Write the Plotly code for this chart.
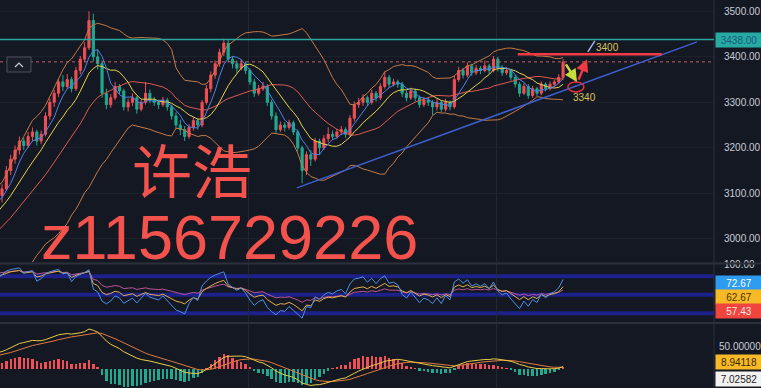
import numpy as np
import pandas as pd
import plotly.graph_objects as go

# ---------------- data ----------------
history_close = [2930, 2945, 2925, 2950, 2970, 2960, 2985, 2975, 3000, 2990, 2985,
                 3010, 3000, 3030, 3045, 3040, 3060, 3075, 3070, 3095, 3085, 3090]

opens = [3095, 3110, 3150, 3175, 3195, 3215, 3205, 3225, 3235, 3215,
         3230, 3270, 3300, 3320, 3345, 3335, 3350, 3330, 3370, 3395,
         3420, 3480, 3400, 3385, 3320, 3295, 3310, 3335, 3325, 3290,
         3300, 3310, 3285, 3300, 3320, 3305, 3300, 3295, 3305, 3290,
         3270, 3250, 3240, 3225, 3245, 3260, 3250, 3300, 3330, 3360,
         3385, 3410, 3430, 3395, 3385, 3375, 3385, 3370, 3345, 3320,
         3330, 3335, 3300, 3270, 3240, 3250, 3245, 3255, 3235, 3200,
         3150, 3185, 3175, 3215, 3200, 3220, 3230, 3225, 3235, 3240,
         3230, 3265, 3295, 3300, 3310, 3300, 3320, 3310, 3335, 3355,
         3340, 3345, 3340, 3320, 3310, 3325, 3310, 3295, 3305, 3300,
         3290, 3300, 3285, 3300, 3290, 3350, 3370, 3360, 3380, 3365,
         3375, 3370, 3380, 3370, 3395, 3375, 3365, 3370, 3355, 3340,
         3320, 3335, 3315, 3330, 3320, 3340, 3330, 3340, 3345, 3355]
highs = [3120, 3160, 3185, 3205, 3225, 3222, 3235, 3245, 3240, 3238,
         3278, 3308, 3328, 3352, 3360, 3362, 3356, 3378, 3402, 3432,
         3500, 3495, 3415, 3392, 3330, 3318, 3345, 3340, 3330, 3308,
         3320, 3315, 3305, 3345, 3328, 3312, 3306, 3312, 3310, 3295,
         3278, 3262, 3248, 3252, 3268, 3265, 3305, 3338, 3368, 3392,
         3418, 3440, 3438, 3402, 3392, 3395, 3390, 3375, 3352, 3338,
         3345, 3340, 3306, 3278, 3258, 3256, 3262, 3260, 3240, 3205,
         3192, 3195, 3222, 3220, 3228, 3245, 3238, 3242, 3248, 3245,
         3272, 3302, 3310, 3318, 3315, 3328, 3325, 3342, 3368, 3360,
         3352, 3350, 3345, 3326, 3332, 3330, 3315, 3312, 3310, 3305,
         3308, 3305, 3308, 3304, 3358, 3378, 3376, 3388, 3385, 3382,
         3380, 3392, 3385, 3402, 3400, 3382, 3378, 3374, 3360, 3345,
         3342, 3340, 3336, 3334, 3346, 3344, 3346, 3350, 3362, 3395]
lows = [3080, 3105, 3140, 3165, 3185, 3195, 3200, 3215, 3205, 3208,
        3225, 3262, 3290, 3312, 3325, 3330, 3322, 3325, 3362, 3388,
        3415, 3390, 3372, 3310, 3285, 3288, 3305, 3318, 3282, 3280,
        3292, 3275, 3280, 3295, 3298, 3292, 3285, 3290, 3282, 3262,
        3242, 3228, 3215, 3220, 3238, 3240, 3245, 3295, 3322, 3352,
        3378, 3402, 3388, 3375, 3365, 3370, 3362, 3338, 3312, 3315,
        3325, 3292, 3262, 3232, 3235, 3236, 3240, 3228, 3192, 3122,
        3140, 3160, 3170, 3185, 3195, 3212, 3218, 3220, 3228, 3222,
        3225, 3258, 3288, 3292, 3292, 3295, 3302, 3305, 3330, 3332,
        3335, 3332, 3312, 3302, 3305, 3302, 3288, 3290, 3292, 3272,
        3282, 3278, 3280, 3282, 3286, 3345, 3352, 3355, 3358, 3360,
        3362, 3366, 3362, 3366, 3368, 3358, 3360, 3348, 3333, 3312,
        3316, 3308, 3310, 3314, 3316, 3324, 3326, 3334, 3340, 3350]
closes = [3110, 3150, 3175, 3195, 3215, 3205, 3225, 3235, 3215, 3230,
          3270, 3300, 3320, 3345, 3335, 3350, 3330, 3370, 3395, 3420,
          3480, 3400, 3385, 3320, 3295, 3310, 3335, 3325, 3290, 3300,
          3310, 3285, 3300, 3320, 3305, 3300, 3295, 3305, 3290, 3270,
          3250, 3240, 3225, 3245, 3260, 3250, 3300, 3330, 3360, 3385,
          3410, 3430, 3395, 3385, 3375, 3385, 3370, 3345, 3320, 3330,
          3335, 3300, 3270, 3240, 3250, 3245, 3255, 3235, 3200, 3150,
          3185, 3175, 3215, 3200, 3220, 3230, 3225, 3235, 3240, 3230,
          3265, 3295, 3300, 3310, 3300, 3320, 3310, 3335, 3355, 3340,
          3345, 3340, 3320, 3310, 3325, 3310, 3295, 3305, 3300, 3290,
          3300, 3285, 3300, 3290, 3350, 3370, 3360, 3380, 3365, 3375,
          3370, 3380, 3370, 3395, 3375, 3365, 3370, 3355, 3340, 3320,
          3335, 3315, 3330, 3320, 3340, 3330, 3340, 3345, 3355, 3388]

price_ticks = [3000, 3100, 3200, 3300, 3400, 3500]
rsi_ticks = [100]
macd_ticks = [50]
rsi_levels = [80, 50, 20]
vgrid = [56.6, 113.8]

resistance_price = 3438
last_price_line = 3389
trend_line = dict(x0=67.8, y0=3112, x1=159.8, y1=3433)
target_line = dict(x0=118.6, x1=151.7, y=3406)
right_labels_rsi = [("72.67", "#2d9cf0", "#ffffff", 283),
                    ("62.67", "#f7b928", "#4a3200", 297),
                    ("57.43", "#f0443f", "#ffe4e4", 311)]
right_labels_macd = [("8.94118", "#f7b928", "#3a2800", 362),
                     ("7.02582", "#f2f2f2", "#222222", 379)]

# ---------------- indicators ----------------
s = pd.Series(history_close + closes, dtype=float)
nh = len(history_close)
idx_all = np.arange(len(s)) - nh
ma5 = s.rolling(5).mean()
ma10 = s.rolling(10).mean()
mid = s.rolling(20).mean()
sd = s.rolling(20).std(ddof=0)
upper = mid + 2 * sd
lower = mid - 2 * sd


def rsi(series, n):
    d = series.diff()
    up = d.clip(lower=0)
    dn = (-d).clip(lower=0)
    au = up.ewm(alpha=1 / n, adjust=False).mean()
    ad = dn.ewm(alpha=1 / n, adjust=False).mean()
    return 100 * au / (au + ad)


rsi6, rsi12, rsi24 = rsi(s, 6), rsi(s, 12), rsi(s, 24)
ema12 = s.ewm(span=12, adjust=False).mean()
ema26 = s.ewm(span=26, adjust=False).mean()
dif = ema12 - ema26
dea = dif.ewm(span=9, adjust=False).mean()
hist = 2 * (dif - dea)

m = idx_all >= -1
X = idx_all[m]
vis = np.arange(len(closes))

BG = "#141823"
RED = "#ef4f55"
GREEN = "#22a88f"
FONT = "Liberation Sans"

fig = go.Figure()
fig.add_trace(go.Candlestick(
    x=vis, open=opens, high=highs, low=lows, close=closes,
    increasing=dict(line=dict(color=RED, width=1), fillcolor=RED),
    decreasing=dict(line=dict(color=GREEN, width=1), fillcolor=GREEN),
    whiskerwidth=0, xaxis="x", yaxis="y", showlegend=False))

for ser, col in [(upper, "#c57a45"), (lower, "#c57a45"), (mid, "#dd5a50"),
                 (ma10, "#e6d24c"), (ma5, "#4d82e6")]:
    fig.add_trace(go.Scatter(x=X, y=ser[m], mode="lines", line=dict(color=col, width=1),
                             xaxis="x", yaxis="y", showlegend=False, hoverinfo="skip"))

for ser, col in [(rsi24, "#b9569a"), (rsi12, "#e2b04a"), (rsi6, "#4f8fe6")]:
    fig.add_trace(go.Scatter(x=X, y=ser[m], mode="lines", line=dict(color=col, width=1),
                             xaxis="x2", yaxis="y2", showlegend=False, hoverinfo="skip"))

hv = hist[m].values
fig.add_trace(go.Bar(x=X, y=hv, marker=dict(color=[RED if v >= 0 else GREEN for v in hv], line=dict(width=0)),
                     width=0.55, xaxis="x3", yaxis="y3", showlegend=False))
fig.add_trace(go.Scatter(x=X, y=dea[m], mode="lines", line=dict(color="#e07a3e", width=1),
                         xaxis="x3", yaxis="y3", showlegend=False))
fig.add_trace(go.Scatter(x=X, y=dif[m], mode="lines", line=dict(color="#e8cc48", width=1),
                         xaxis="x3", yaxis="y3", showlegend=False))

W, H = 761, 388
PW = 714


def PX(x):
    return x / PW


def PY(y):
    return 1 - y / H


xr = [-0.46, 163.7]
xcommon = dict(range=xr, showticklabels=False, showgrid=True, gridcolor="#232734",
               tickvals=vgrid, zeroline=False, showline=False, fixedrange=True, automargin=False)
ycommon = dict(side="right", showline=False, zeroline=False, ticks="outside",
               tickcolor=BG, automargin=False,
               tickfont=dict(family=FONT, size=10, color="#c9ccd4"))

fig.update_layout(
    width=W, height=H, margin=dict(l=0, r=W - PW, t=0, b=0, pad=0, autoexpand=False),
    paper_bgcolor=BG, plot_bgcolor=BG, bargap=0,
    xaxis=dict(**xcommon, anchor="y", rangeslider=dict(visible=False), domain=[0, 1]),
    xaxis2=dict(**xcommon, anchor="y2", matches="x", domain=[0, 1]),
    xaxis3=dict(**xcommon, anchor="y3", matches="x", domain=[0, 1]),
    yaxis=dict(**ycommon, ticklen=7, domain=[PY(262), 1], range=[2949, 3525], tickvals=price_ticks,
               ticktext=[f"{v:.2f}" for v in price_ticks], showgrid=True, gridcolor="#1d212c"),
    yaxis2=dict(**ycommon, ticklen=7, domain=[PY(325.5), PY(264)], range=[0, 100], tickvals=rsi_ticks,
                ticktext=[f"{v:.2f}" for v in rsi_ticks], showgrid=False),
    yaxis3=dict(**ycommon, ticklen=2, domain=[0, PY(326)], range=[-43.2, 97.7], tickvals=macd_ticks,
                ticktext=[f"{v:.5f}" for v in macd_ticks], showgrid=False),
)

shapes = []
for lv in rsi_levels:
    shapes.append(dict(type="line", xref="paper", yref="y2", x0=0, x1=1, y0=lv, y1=lv,
                       line=dict(color="rgba(30,34,150,0.9)", width=4), layer="below"))
for py in [263.5, 323]:
    shapes.append(dict(type="line", xref="paper", yref="paper", x0=0, x1=1.07, y0=PY(py), y1=PY(py),
                       line=dict(color="#2c303b", width=2)))
shapes.append(dict(type="line", xref="paper", yref="paper", x0=1, x1=1, y0=0, y1=1,
                   line=dict(color="#2c303b", width=1)))
shapes.append(dict(type="line", xref="paper", yref="y", x0=0, x1=1, y0=resistance_price, y1=resistance_price,
                   line=dict(color="#2aa8a0", width=1.5)))
shapes.append(dict(type="line", xref="paper", yref="y", x0=0, x1=1, y0=last_price_line, y1=last_price_line,
                   line=dict(color="#c9606a", width=1, dash="dot")))
shapes.append(dict(type="line", xref="x", yref="y", **trend_line, line=dict(color="#3d5fcf", width=1.5)))
shapes.append(dict(type="line", xref="x", yref="y", x0=target_line["x0"], x1=target_line["x1"],
                   y0=target_line["y"], y1=target_line["y"], line=dict(color="#f03a44", width=2.5)))
shapes.append(dict(type="line", xref="x", yref="y", x0=134.7, y0=3411, x1=136.3, y1=3435,
                   line=dict(color="#a8b2e0", width=1.5)))
shapes.append(dict(type="circle", xref="x", yref="y", x0=130.1, x1=133.8, y0=3323, y1=3345,
                   line=dict(color="#e8323e", width=1.5)))
shapes.append(dict(type="rect", xref="paper", yref="paper", x0=PX(7), x1=PX(31), y0=PY(72), y1=PY(57),
                   line=dict(color="#4a4e5a", width=1), fillcolor="#1a1e29"))
shapes.append(dict(type="path", xref="paper", yref="paper",
                   path=f"M {PX(15)} {PY(67)} L {PX(19)} {PY(63)} L {PX(23)} {PY(67)}",
                   line=dict(color="#c8cad0", width=1.2)))

ann = []
ann.append(dict(xref="paper", yref="paper", x=1, y=PY(40), xanchor="left", yanchor="middle", xshift=1,
                text="3438.00", showarrow=False, bgcolor="#27aaa2", width=44, height=12, borderpad=1,
                font=dict(family=FONT, size=10, color="#1a5a86")))
for txt, bg, fc, py in right_labels_rsi + right_labels_macd:
    ann.append(dict(xref="paper", yref="paper", x=1, y=PY(py), xanchor="left", yanchor="middle", xshift=1,
                    text=txt, showarrow=False, bgcolor=bg, width=44, height=12, borderpad=1,
                    font=dict(family=FONT, size=10, color=fc)))
ann.append(dict(xref="x", yref="y", x=139.3, y=3421, text="3400", showarrow=False,
                font=dict(family=FONT, size=10, color="#d9c35a")))
ann.append(dict(xref="x", yref="y", x=134.0, y=3310, text="3340", showarrow=False,
                font=dict(family=FONT, size=10, color="#d9c35a")))
ann.append(dict(xref="x", yref="y", x=132.2, y=3345, ax=-12, ay=-19, axref="pixel", ayref="pixel",
                showarrow=True, arrowhead=2, arrowsize=1, arrowwidth=2.5, arrowcolor="#c6dc3c", text=""))
ann.append(dict(xref="x", yref="y", x=134.5, y=3395, ax=-9, ay=22, axref="pixel", ayref="pixel",
                showarrow=True, arrowhead=2, arrowsize=1, arrowwidth=2.5, arrowcolor="#f03a44", text=""))
ann.append(dict(xref="paper", yref="paper", x=PX(192), y=PY(168), text="许浩", showarrow=False,
                xanchor="center", yanchor="middle", height=60, borderpad=0,
                font=dict(family="Noto Sans CJK SC", size=60, color="#f4534d")))
ann.append(dict(xref="paper", yref="paper", x=PX(229), y=PY(237), text="z1156729226", showarrow=False,
                xanchor="center", yanchor="middle", height=56, borderpad=0,
                font=dict(family=FONT, size=63, color="#f4534d")))

fig.update_layout(shapes=shapes, annotations=ann)
fig.write_html("out.html", config={"displayModeBar": False},
               post_script="document.body.style.margin='0px';document.body.style.overflow='hidden';")
